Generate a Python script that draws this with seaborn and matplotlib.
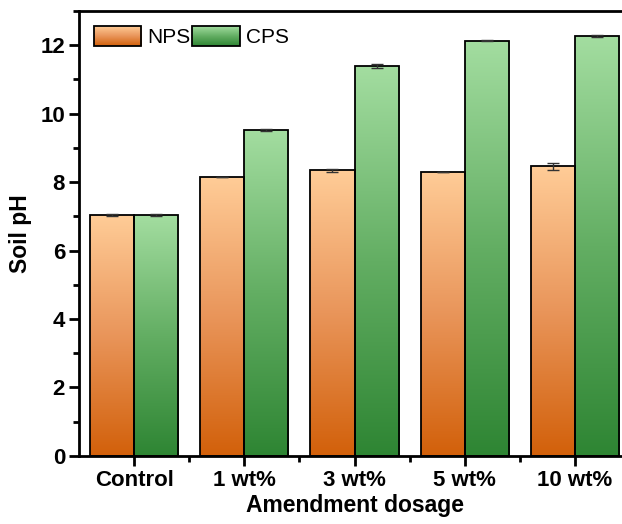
import numpy as np
import pandas as pd
import matplotlib
matplotlib.use("Agg")
import matplotlib.pyplot as plt
import seaborn as sns
from matplotlib.colors import LinearSegmentedColormap
from matplotlib.image import BboxImage
from matplotlib.ticker import MultipleLocator, FixedLocator

# Data
dosages = ["Control", "1 wt%", "3 wt%", "5 wt%", "10 wt%"]
nps_ph = [7.03, 8.15, 8.34, 8.30, 8.46]
cps_ph = [7.03, 9.52, 11.38, 12.13, 12.27]
nps_err = [0.03, 0.01, 0.03, 0.01, 0.10]
cps_err = [0.03, 0.02, 0.06, 0.02, 0.02]
series = ["NPS", "CPS"]

df = pd.DataFrame({
    "dosage": dosages * 2,
    "ph": nps_ph + cps_ph,
    "err": nps_err + cps_err,
    "series": ["NPS"] * len(dosages) + ["CPS"] * len(dosages),
})

# gradient colormaps: dark at bottom, light at top
cmaps = {
    "NPS": LinearSegmentedColormap.from_list("nps", ["#D2600A", "#E9955A", "#FFCC97"]),
    "CPS": LinearSegmentedColormap.from_list("cps", ["#2E8533", "#63AE63", "#A3DDA0"]),
}
grad = np.linspace(0, 1, 256).reshape(-1, 1)

sns.set_style("ticks")
plt.rcParams["font.family"] = ["Liberation Sans", "DejaVu Sans"]
plt.rcParams.update({"text.color": "black", "axes.labelcolor": "black",
                     "xtick.color": "black", "ytick.color": "black",
                     "axes.edgecolor": "black"})

fig = plt.figure(figsize=(6.22, 5.24), dpi=100)
ax = fig.add_axes([0.127, 0.13, 0.886, 0.849])

sns.barplot(data=df, x="dosage", y="ph", hue="series", hue_order=series,
            order=dosages, palette={"NPS": "#E9955A", "CPS": "#63AE63"},
            edgecolor="black", linewidth=1.3, width=0.8, errorbar=None,
            ax=ax, zorder=3)

# bars are in hue order: first all NPS, then all CPS
bars = [p for p in ax.patches if p.get_height() > 0]
for i, p in enumerate(bars):
    s = series[i // len(dosages)]
    j = i % len(dosages)
    x, w, h = p.get_x(), p.get_width(), p.get_height()
    p.set_facecolor("none")
    im = ax.imshow(grad, extent=[x, x + w, 0, h], origin="lower", cmap=cmaps[s],
                   aspect="auto", zorder=2, interpolation="bilinear")
    im.set_clip_path(p)
    err = df[(df.series == s)]["err"].values[j]
    ax.errorbar(x + w / 2, h, yerr=err, fmt="none", ecolor="#333333",
                elinewidth=1, capsize=4, capthick=1, zorder=4)

ax.set_xlim(-0.5, 4.5)
ax.set_ylim(0, 13)
ax.yaxis.set_major_locator(MultipleLocator(2))
ax.yaxis.set_minor_locator(MultipleLocator(1))
ax.xaxis.set_minor_locator(FixedLocator([0.5, 1.5, 2.5, 3.5]))

for sp in ax.spines.values():
    sp.set_visible(True)
    sp.set_linewidth(2)
    sp.set_color("black")
ax.tick_params(axis="both", which="major", length=7, width=2, direction="out",
               labelsize=16, pad=3, colors="black")
ax.tick_params(axis="both", which="minor", length=4, width=2, direction="out",
               colors="black")
for lbl in ax.get_xticklabels() + ax.get_yticklabels():
    lbl.set_fontweight("bold")

ax.set_xlabel("Amendment dosage", fontsize=16.5, fontweight="bold", labelpad=2)
ax.set_ylabel("Soil pH", fontsize=16.5, fontweight="bold", labelpad=6)

leg = ax.legend(loc="upper left", bbox_to_anchor=(0.0, 1.0), frameon=False,
                ncol=2, fontsize=15, handlelength=2.3, handleheight=1.1,
                columnspacing=0.05, handletextpad=0.3, borderaxespad=0.3)
handles = leg.legend_handles
for hd in handles:
    hd.set_facecolor("none")
    hd.set_edgecolor("black")
    hd.set_linewidth(1.3)

fig.canvas.draw()
for hd, s in zip(handles, series):
    bb = hd.get_window_extent(fig.canvas.get_renderer())
    bim = BboxImage(bb, cmap=cmaps[s], origin="lower", interpolation="bilinear")
    bim.set_data(grad)
    bim.set_zorder(4.9)
    ax.add_artist(bim)

fig.savefig("out.png", dpi=100)
